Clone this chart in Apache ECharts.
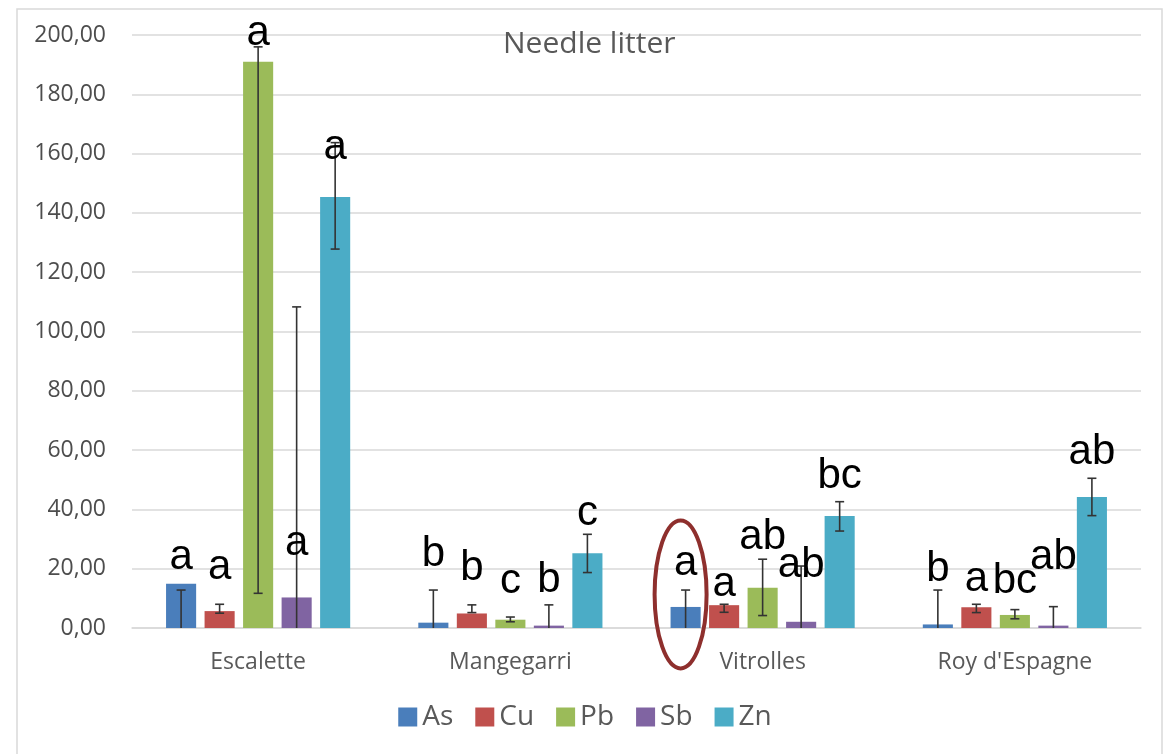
<!DOCTYPE html>
<html>
<head>
<meta charset="utf-8">
<script src="https://cdn.jsdelivr.net/npm/echarts@6/dist/echarts.min.js"></script>
<style>
html,body{margin:0;padding:0;background:#fff;}
#c{width:1170px;height:754px;}
</style>
</head>
<body>
<div id="c"></div>
<script>
// ---- data ----
var categories = ['Escalette', 'Mangegarri', 'Vitrolles', "Roy d'Espagne"];
var metals = ['As', 'Cu', 'Pb', 'Sb', 'Zn'];
var yTicks = [0, 20, 40, 60, 80, 100, 120, 140, 160, 180, 200];

var asVals = [14.9, 1.8, 7.1, 1.2];
var cuVals = [5.7, 4.9, 7.7, 7.0];
var pbVals = [191.0, 2.8, 13.6, 4.4];
var sbVals = [10.3, 0.8, 2.1, 0.8];
var znVals = [145.4, 25.2, 37.8, 44.2];

var asHigh = [12.8, 12.8, 12.8, 12.8];
var asLow  = [0, 0, 0, 0];
var cuHigh = [8.0, 7.8, 8.0, 8.0];
var cuLow  = [5.0, 5.2, 5.3, 5.2];
var pbHigh = [196.0, 3.7, 23.2, 6.2];
var pbLow  = [11.7, 2.1, 4.2, 3.1];
var sbHigh = [108.3, 7.8, 20.9, 7.2];
var sbLow  = [0, 0, 0, 0];
var znHigh = [163.7, 31.6, 42.6, 50.5];
var znLow  = [127.8, 18.7, 32.7, 37.9];

var asLetters = ['a', 'b', 'a', 'b'];
var cuLetters = ['a', 'b', 'a', 'a'];
var pbLetters = ['a', 'c', 'ab', 'bc'];
var sbLetters = ['a', 'b', 'ab', 'ab'];
var znLetters = ['a', 'c', 'bc', 'ab'];

// letter baseline heights (value-axis units)
var asLetterAt = [19.0, 19.8, 16.8, 14.8];
var cuLetterAt = [15.6, 15.3, 9.8, 11.5];
var pbLetterAt = [195.5, 10.8, 25.7, 10.9];
var sbLetterAt = [23.5, 11.1, 16.2, 19.0];
var znLetterAt = [157.1, 33.8, 46.0, 54.4];

// ---- assembly ----
var values = [asVals, cuVals, pbVals, sbVals, znVals];
var highs = [asHigh, cuHigh, pbHigh, sbHigh, znHigh];
var lows = [asLow, cuLow, pbLow, sbLow, znLow];
var letters = [asLetters, cuLetters, pbLetters, sbLetters, znLetters];
var letterAt = [asLetterAt, cuLetterAt, pbLetterAt, sbLetterAt, znLetterAt];
var colors = ['#4A7EBB', '#C0504D', '#9BBB59', '#8064A2', '#4BACC6'];

var BAR_CAT_GAP = 0.27, BAR_GAP = 0.28, N = metals.length;
var LETTER_FONT = 42;

function barCenterOffset(band, k) {
  var rem = band * (1 - BAR_CAT_GAP);
  var w = rem / (N + (N - 1) * BAR_GAP);
  var total = N * w + (N - 1) * w * BAR_GAP;
  return { off: -total / 2 + k * w * (1 + BAR_GAP) + w / 2, w: w };
}

var series = [];
metals.forEach(function (m, k) {
  series.push({
    name: m, type: 'bar', data: values[k],
    itemStyle: { color: colors[k] },
    barGap: (BAR_GAP * 100) + '%', barCategoryGap: (BAR_CAT_GAP * 100) + '%',
    z: 2
  });
});
metals.forEach(function (m, k) {
  var d = categories.map(function (c, i) { return [i, lows[k][i], highs[k][i], letterAt[k][i]]; });
  series.push({
    name: m + '_err', type: 'custom', data: d, z: 10, silent: true,
    encode: { x: 0, y: [1, 2, 3] },
    renderItem: function (params, api) {
      var i = api.value(0);
      var band = api.size([1, 0])[0];
      var bc = barCenterOffset(band, k);
      var base = api.coord([i, 0]);
      var x = base[0] + bc.off;
      var lo = api.coord([i, api.value(1)])[1];
      var hi = api.coord([i, api.value(2)])[1];
      var ly = api.coord([i, api.value(3)])[1];
      var cap = 4.5;
      var st = { stroke: '#333333', lineWidth: 1.6 };
      var children = [
        { type: 'line', shape: { x1: x, y1: lo, x2: x, y2: hi }, style: st },
        { type: 'line', shape: { x1: x - cap, y1: hi, x2: x + cap, y2: hi }, style: st }
      ];
      if (api.value(1) > 0) {
        children.push({ type: 'line', shape: { x1: x - cap, y1: lo, x2: x + cap, y2: lo }, style: st });
      }
      children.push({
        type: 'text', z2: 20,
        style: {
          text: letters[k][i], x: x, y: ly - 0.35 * LETTER_FONT,
          align: 'center', verticalAlign: 'middle',
          fontFamily: 'Liberation Sans', fontSize: LETTER_FONT, fill: '#000'
        }
      });
      return { type: 'group', children: children };
    }
  });
});

var chart = echarts.init(document.getElementById('c'), null, { renderer: 'canvas' });
chart.setOption({
  animation: false,
  backgroundColor: '#fff',
  title: {
    text: 'Needle litter', left: 498, top: 24,
    textStyle: { fontFamily: 'Open Sans', fontSize: 30, fontWeight: 'normal', color: '#595959' }
  },
  legend: {
    data: metals, bottom: 18, left: 'center', icon: 'rect',
    itemWidth: 19, itemHeight: 19, itemGap: 22,
    textStyle: { fontFamily: 'Open Sans', fontSize: 28, color: '#595959' }
  },
  grid: { left: 132, right: 29, top: 35, bottom: 126, containLabel: false },
  xAxis: {
    type: 'category', data: categories,
    axisLine: { lineStyle: { color: '#D9D9D9', width: 1.5 } },
    axisTick: { show: false },
    axisLabel: { fontFamily: 'Open Sans', fontSize: 23, color: '#595959', margin: 23 }
  },
  yAxis: {
    type: 'value', min: yTicks[0], max: yTicks[yTicks.length - 1], interval: yTicks[1] - yTicks[0],
    axisLine: { show: false }, axisTick: { show: false },
    splitLine: { lineStyle: { color: '#D9D9D9', width: 1.5 } },
    axisLabel: {
      fontFamily: 'Open Sans', fontSize: 23, color: '#4d4d4d', margin: 26,
      formatter: function (v) { return v.toFixed(2).replace('.', ','); }
    }
  },
  series: series
});

// annotation ellipse around Vitrolles / As
var p = chart.convertToPixel({ gridIndex: 0 }, [2, 11]);
var bandW = 1009 / categories.length;
var asOff = barCenterOffset(bandW, 0).off;
chart.setOption({
  graphic: [
    { type: 'rect', shape: { x: 17, y: 9, width: 1145, height: 760 },
      style: { fill: 'none', stroke: '#D9D9D9', lineWidth: 1.5 }, z: 0, silent: true },
    { type: 'ellipse', shape: { cx: p[0] + asOff - 5, cy: p[1] - 1, rx: 26, ry: 74 },
      style: { fill: 'none', stroke: '#8E2F2D', lineWidth: 4 }, z: 100, silent: true }
  ]
});
</script>
</body>
</html>
